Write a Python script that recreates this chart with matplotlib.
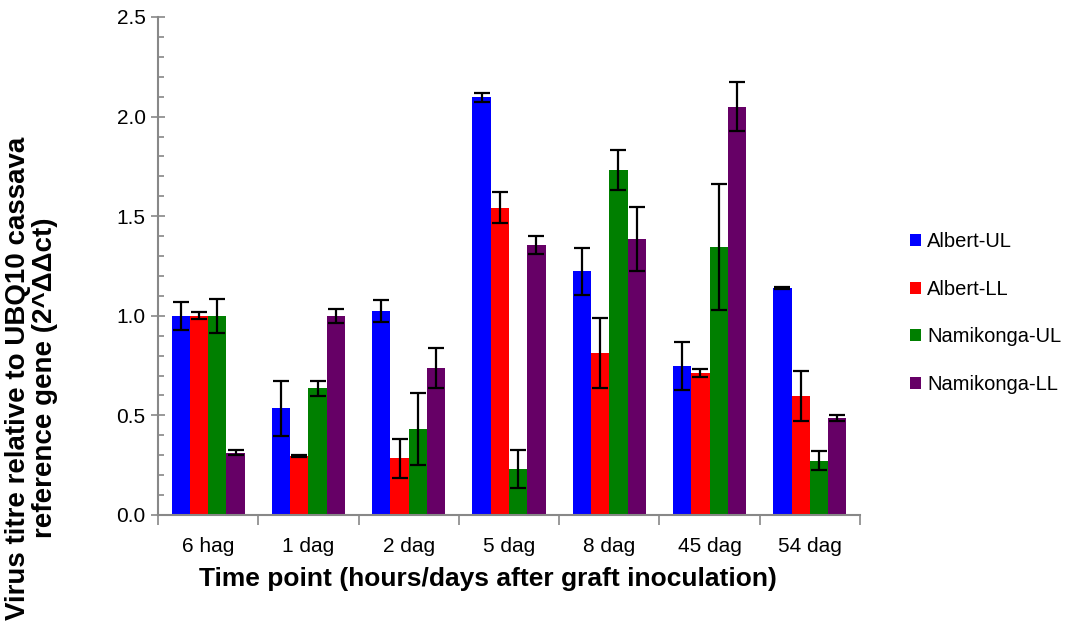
import matplotlib
matplotlib.use("Agg")
import matplotlib.pyplot as plt
import numpy as np
from matplotlib.ticker import MultipleLocator, FixedLocator, NullFormatter

plt.rcParams['font.family'] = ['Liberation Sans', 'DejaVu Sans']

categories = ["6 hag", "1 dag", "2 dag", "5 dag", "8 dag", "45 dag", "54 dag"]
series = ["Albert-UL", "Albert-LL", "Namikonga-UL", "Namikonga-LL"]
albert_ul = [1.00, 0.537, 1.024, 2.097, 1.223, 0.748, 1.140]
albert_ul_err = [0.070, 0.138, 0.055, 0.022, 0.117, 0.120, 0.003]
albert_ll = [1.00, 0.298, 0.284, 1.543, 0.812, 0.711, 0.597]
albert_ll_err = [0.018, 0.005, 0.097, 0.077, 0.175, 0.020, 0.127]
namik_ul = [1.00, 0.636, 0.432, 0.231, 1.732, 1.345, 0.273]
namik_ul_err = [0.085, 0.037, 0.180, 0.093, 0.100, 0.315, 0.046]
namik_ll = [0.313, 0.999, 0.738, 1.357, 1.387, 2.050, 0.487]
namik_ll_err = [0.012, 0.035, 0.100, 0.045, 0.160, 0.122, 0.013]
colors = ["#0000FF", "#FF0000", "#007F00", "#660066"]

values = [albert_ul, albert_ll, namik_ul, namik_ll]
errors = [albert_ul_err, albert_ll_err, namik_ul_err, namik_ll_err]

fig = plt.figure(figsize=(10.66, 6.26), dpi=100)
ax = fig.add_axes([158/1066, 1-515/626, (860-158)/1066, (515-17)/626])

n = len(categories)
centers = np.arange(n) + 0.5
w = 0.182
for j, (vals, errs, c, name) in enumerate(zip(values, errors, colors, series)):
    x = centers + (j - 1.5) * w
    ax.bar(x, vals, width=w, color=c, label=name, zorder=2, edgecolor='none')
    ax.errorbar(x, vals, yerr=errs, fmt='none', ecolor='black', elinewidth=1.6,
                capsize=5.5, capthick=1.6, zorder=3)

ax.set_xlim(0, n)
ax.set_ylim(0, 2.5)
ax.yaxis.set_major_locator(MultipleLocator(0.5))
ax.yaxis.set_minor_locator(MultipleLocator(0.1))
ax.yaxis.set_major_formatter(matplotlib.ticker.FormatStrFormatter('%.1f'))
ax.xaxis.set_major_locator(FixedLocator(np.arange(n + 1)))
ax.xaxis.set_major_formatter(NullFormatter())
ax.xaxis.set_minor_locator(FixedLocator(centers))
ax.set_xticklabels(categories, minor=True)
ax.tick_params(axis='x', which='major', length=7, color='#888888', width=1.2)
ax.tick_params(axis='x', which='minor', length=0, labelsize=15, pad=16)
ax.tick_params(axis='y', which='major', direction='inout', length=10, color='#888888',
               width=1.2, labelsize=15, pad=4)
ax.tick_params(axis='y', which='minor', direction='in', length=4, color='#888888', width=1.2)
for s in ['top', 'right']:
    ax.spines[s].set_visible(False)
for s in ['left', 'bottom']:
    ax.spines[s].set_color('#888888')
    ax.spines[s].set_linewidth(1.5)

fig.text(488/1066, 1-579/626, "Time point (hours/days after graft inoculation)", fontsize=19,
         fontweight='bold', ha='center', va='center')
fig.text(0.030, 1-378/626, "Virus titre relative to UBQ10 cassava\nreference gene (2^\u0394\u0394ct)",
         rotation=90, ha='center', va='center', fontsize=20, fontweight='bold',
         linespacing=1.05)

leg = ax.legend(loc='center left', bbox_to_anchor=(892/1066, 1-313/626),
                bbox_transform=fig.transFigure, frameon=False, fontsize=14.5,
                handlelength=0.55, handleheight=0.55, labelspacing=1.42,
                handletextpad=0.3)

fig.savefig("out.png", dpi=100)
